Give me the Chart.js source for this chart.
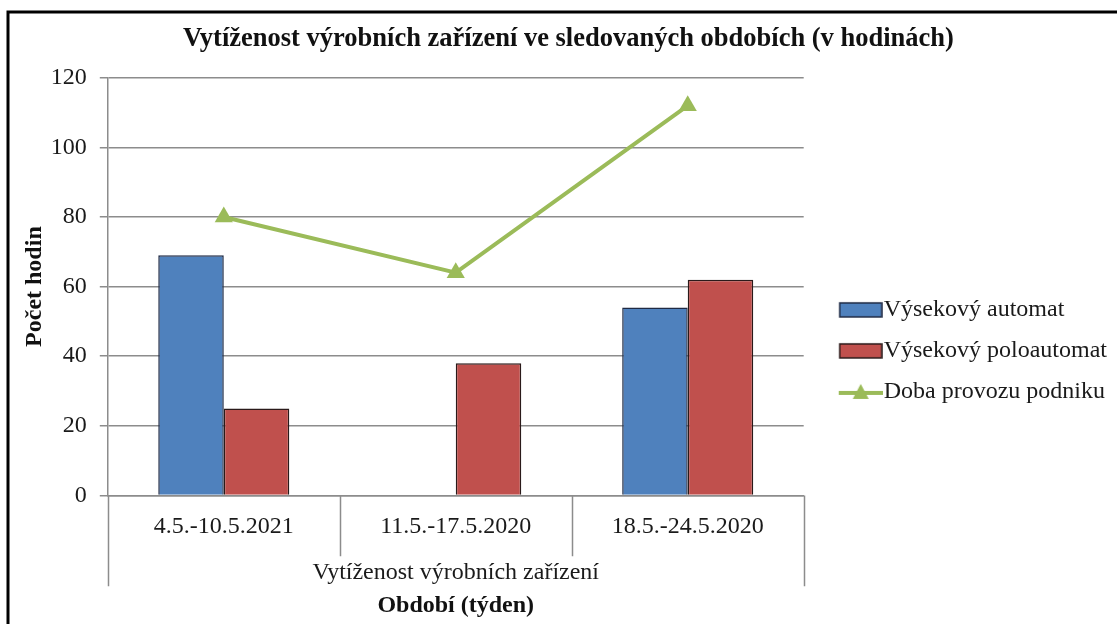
<!DOCTYPE html>
<html>
<head>
<meta charset="utf-8">
<script src="https://cdn.jsdelivr.net/npm/chart.js@4"></script>
<style>
  html, body { margin: 0; padding: 0; background: #fff; }
  #wrap { position: relative; width: 1117px; height: 624px; }
</style>
</head>
<body>
<div id="wrap"><canvas id="vytChart" width="1117" height="624"></canvas></div>
<script>
// Data
const categories = ['4.5.-10.5.2021', '11.5.-17.5.2020', '18.5.-24.5.2020'];
const groupLabels = ['Vytíženost výrobních zařízení'];
const automat = [69, null, 54];
const poloautomat = [25, 38, 62];
const dobaProvozu = [80, 64, 112];
const yTicks = [0, 20, 40, 60, 80, 100, 120];

const FONT = '"Liberation Serif", "Times New Roman", serif';
const GRID = '#8c8c8c';
const TEXT = '#1a1a1a';

// legend swatches (blank margin on the left so they sit close to the text)
function boxSwatch(fill, stroke) {
    const c = document.createElement('canvas');
    c.width = 73; c.height = 18;
    const g = c.getContext('2d');
    g.fillStyle = fill;
    g.fillRect(30, 2, 42, 14);
    g.strokeStyle = stroke;
    g.lineWidth = 1.5;
    g.strokeRect(30, 2, 42, 14);
    return c;
}
function lineSwatch(color) {
    const c = document.createElement('canvas');
    c.width = 73; c.height = 20;
    const g = c.getContext('2d');
    g.strokeStyle = color;
    g.lineWidth = 4;
    g.beginPath(); g.moveTo(29, 11); g.lineTo(73, 11); g.stroke();
    g.fillStyle = color;
    g.beginPath(); g.moveTo(51, 2); g.lineTo(59, 17); g.lineTo(43, 17); g.closePath(); g.fill();
    return c;
}
const swatches = [boxSwatch('#4f81bd', '#1f2a44'), boxSwatch('#c0504d', '#2a1a1a'), lineSwatch('#9bbb59')];

// frame + category separators
const decor = {
    id: 'decor',
    beforeDraw(chart) {
        const ctx = chart.ctx;
        ctx.save();
        ctx.fillStyle = '#fff';
        ctx.fillRect(0, 0, chart.width, chart.height);
        ctx.strokeStyle = '#000';
        ctx.lineWidth = 3;
        ctx.beginPath();
        ctx.moveTo(8, chart.height + 5);
        ctx.lineTo(8, 12);
        ctx.lineTo(chart.width + 5, 12);
        ctx.stroke();
        ctx.restore();
    },
    afterDraw(chart) {
        const ctx = chart.ctx;
        const x = chart.scales.x, x2 = chart.scales.x2;
        const area = chart.chartArea;
        const half = (x.getPixelForValue(1) - x.getPixelForValue(0)) / 2;
        ctx.save();
        ctx.strokeStyle = GRID;
        ctx.lineWidth = 1.5;
        ctx.beginPath();
        for (let i = 1; i < categories.length; i++) {
            const px = Math.round(x.getPixelForValue(i) - half) + 0.5;
            ctx.moveTo(px, area.bottom);
            ctx.lineTo(px, x.bottom - 1);
        }
        const l = Math.round(area.left) + 0.5, r = Math.round(area.right) + 0.5;
        const yb = x2.top + 29;
        ctx.moveTo(l, area.bottom); ctx.lineTo(l, yb);
        ctx.moveTo(r, area.bottom); ctx.lineTo(r, yb);
        ctx.stroke();
        ctx.restore();
    }
};

new Chart(document.getElementById('vytChart'), {
    type: 'bar',
    data: {
        labels: categories,
        datasets: [{
            type: 'line',
            label: 'Doba provozu podniku',
            data: dobaProvozu,
            borderColor: '#9bbb59',
            backgroundColor: '#9bbb59',
            borderWidth: 4,
            pointStyle: 'triangle',
            pointRadius: 10.5,
            pointHoverRadius: 10.5,
            pointBorderWidth: 0,
            tension: 0,
            order: 0
        }, {
            label: 'Výsekový automat',
            data: automat,
            backgroundColor: '#4f81bd',
            borderColor: '#1f2a44',
            borderWidth: 1.5,
            order: 1
        }, {
            label: 'Výsekový poloautomat',
            data: poloautomat,
            backgroundColor: '#c0504d',
            borderColor: '#2a1a1a',
            borderWidth: 1.5,
            order: 1
        }]
    },
    options: {
        responsive: false,
        animation: false,
        layout: { padding: { left: 20, right: 0, top: 14, bottom: 4 } },
        datasets: { bar: { categoryPercentage: 0.565, barPercentage: 1.0 } },
        scales: {
            x: {
                offset: true,
                grid: { display: false, drawTicks: false },
                border: { display: true, color: GRID, width: 1.5 },
                ticks: { padding: 16.5, color: TEXT, font: { family: FONT, size: 24 } }
            },
            x2: {
                type: 'category',
                labels: groupLabels,
                position: 'bottom',
                offset: true,
                grid: { display: false, drawTicks: false },
                border: { display: false },
                ticks: { padding: 1.6, color: TEXT, font: { family: FONT, size: 24 } },
                title: { display: true, text: 'Období (týden)', color: '#111', padding: { top: 2, bottom: 0 },
                         font: { family: FONT, size: 24, weight: 'bold' } }
            },
            y: {
                min: 0,
                max: 120,
                afterBuildTicks(axis) { axis.ticks = yTicks.map(v => ({ value: v })); },
                grid: { color: GRID, lineWidth: 1.5, tickLength: 8 },
                border: { color: GRID, width: 1.5 },
                ticks: { padding: 13, color: TEXT, font: { family: FONT, size: 24 } },
                title: { display: true, text: 'Počet hodin', color: '#111', padding: { top: 0, bottom: -11 },
                         font: { family: FONT, size: 24, weight: 'bold' } }
            }
        },
        plugins: {
            title: {
                display: true,
                text: 'Vytíženost výrobních zařízení ve sledovaných obdobích (v hodinách)',
                color: '#111',
                padding: { top: 9, bottom: 23 },
                font: { family: FONT, size: 26.5, weight: 'bold' }
            },
            legend: {
                position: 'right',
                maxWidth: 330,
                title: { display: true, text: ' ', padding: { top: 0, bottom: 39 }, font: { family: FONT, size: 24 } },
                labels: {
                    usePointStyle: true,
                    pointStyleWidth: 51,
                    padding: 17,
                    color: TEXT,
                    font: { family: FONT, size: 24 },
                    generateLabels(chart) {
                        const order = [1, 2, 0];
                        return order.map((di, k) => ({
                            text: chart.data.datasets[di].label,
                            pointStyle: swatches[k],
                            datasetIndex: di,
                            hidden: false,
                            fontColor: TEXT,
                            lineWidth: 0,
                            fillStyle: 'transparent',
                            strokeStyle: 'transparent'
                        }));
                    }
                }
            },
            tooltip: { enabled: false }
        }
    },
    plugins: [decor]
});
</script>
</body>
</html>
